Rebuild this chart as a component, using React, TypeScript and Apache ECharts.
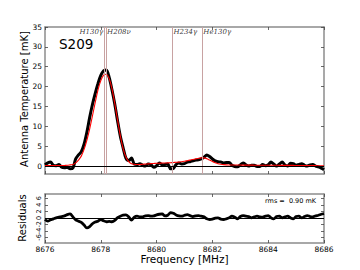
import React, { useEffect, useRef } from 'react';
import * as echarts from 'echarts';

const FREQ_START = 8676;
const FREQ_STEP = 0.1;

// Antenna temperature spectrum [mK], one value per 0.1 MHz from 8676 to 8686
const tempData = [
  0.3, 0.8, 1.0, 0.2, 0.1, 0.4, -0.3, -0.4, -0.3, -0.7,
  -0.5, 1.8, 2.8, 3.6, 5.5, 8.5, 12.2, 15.5, 18.3, 20.8,
  22.8, 24.0, 24.2, 22.3, 19.2, 15.6, 11.4, 7.5, 4.6, 2.0,
  1.4, 2.0, 0.5, 0.4, 0.6, 0.2, 0.0, 0.5, 0.3, -0.3,
  0.1, 0.8, 0.3, 0.4, 0.5, -0.7, -0.6, 0.4, 0.8, 0.5,
  0.6, 1.0, 1.1, 1.3, 1.5, 1.6, 1.8, 2.2, 2.8, 2.4,
  1.8, 1.3, 1.1, 1.0, 0.8, 0.9, 0.9, 0.2, -0.1, -0.2,
  0.3, 0.8, 0.3, 0.0, 0.2, 0.2, -0.1, -0.1, 0.4, 0.1,
  0.3, 1.0, 0.5, 0.0, 0.5, 1.0, 0.3, 0.0, 0.7, 0.6,
  0.2, 0.4, 0.6, 0.2, 0.0, 0.3, 0.4, 0.0, -0.2, -0.5,
  -0.9,
];

// Gaussian fit model [mK]
const modelData = [
  0.1, 0.1, 0.1, 0.1, 0.1, 0.1, 0.1, 0.15, 0.2, 0.3,
  0.4, 0.8, 1.5, 2.5, 4.2, 6.5, 9.3, 12.6, 16.0, 19.2,
  21.5, 22.9, 23.1, 22.0, 19.5, 15.8, 11.6, 7.6, 4.4, 2.3,
  1.1, 0.6, 0.45, 0.4, 0.4, 0.45, 0.5, 0.55, 0.6, 0.65,
  0.7, 0.72, 0.75, 0.78, 0.8, 0.85, 0.9, 0.95, 1.0, 1.1,
  1.2, 1.35, 1.5, 1.65, 1.8, 1.95, 2.05, 2.05, 1.85, 1.5,
  1.15, 0.85, 0.6, 0.45, 0.35, 0.3, 0.28, 0.27, 0.26, 0.25,
  0.25, 0.24, 0.24, 0.23, 0.23, 0.22, 0.22, 0.21, 0.21, 0.2,
  0.2, 0.2, 0.19, 0.19, 0.18, 0.18, 0.17, 0.17, 0.16, 0.16,
  0.15, 0.15, 0.14, 0.14, 0.13, 0.12, 0.11, 0.1, 0.08, 0.06,
  0.05,
];

// Residuals [mK]
const residData = [
  -0.5, -1.0, -0.6, -0.3, 0.0, 0.2, 0.4, 0.6, 1.0, 1.2,
  0.3, -0.6, -1.0, -1.4, -2.2, -3.1, -2.7, -1.8, -1.3, -1.0,
  -0.5, -0.9, -1.2, -1.1, -1.2, -0.8, 0.1, 0.5, 0.8, 0.9,
  0.3, -0.7, 0.2, 0.5, 0.3, 0.3, 0.6, 0.7, 0.5, 0.6,
  0.9, 1.1, 1.2, 0.6, 0.8, 1.6, 1.4, 0.9, 0.6, 0.5,
  0.8, 1.0, 0.7, 0.4, 0.6, 0.7, 0.5, 0.3, -0.3, -0.5,
  -0.4, -0.1, 0.0, -0.4, -0.5, -0.3, 0.0, 0.5, 0.2, -0.3,
  0.4, 0.7, 0.5, 0.4, 0.0, 0.3, 0.5, 0.3, 0.2, 0.5,
  0.7, 0.0, -0.3, 0.4, 0.5, 0.0, 0.3, 0.5, 0.0, -0.3,
  0.4, 0.5, 0.0, 0.4, 0.7, 0.4, 0.3, 0.6, 0.8, 1.1,
  1.3,
];

const lineFreqs = [8678.12, 8678.19, 8680.57, 8681.64];
const lineNames = ['H130γ', 'H208ν', 'H234γ', 'He130γ'];
const labelSides = ['left', 'right', 'right', 'right'];
const labelLevel = 33.7;

const tempTicks = [0, 5, 10, 15, 20, 25, 30, 35];
const residTicks = [-6, -4, -2, 0, 2, 4, 6];
const sourceName = 'S209';
const rmsText = 'rms =  0.90 mK';
const tempTitle = 'Antenna Temperature [mK]';
const residTitle = 'Residuals';
const freqTitle = 'Frequency [MHz]';

const toPairs = (vals: number[]) =>
  vals.map((v, i) => [Number((FREQ_START + i * FREQ_STEP).toFixed(2)), v]);

const FRAME = '#8c8c8c';
const FONT = 'DejaVu Sans';

function xAx(grid: number, pos: string, labels: boolean, name?: string) {
  return {
    type: 'value',
    gridIndex: grid,
    position: pos,
    min: 8676,
    max: 8686,
    interval: 2,
    axisLine: { show: true, onZero: false, lineStyle: { color: FRAME, width: 1.5 } },
    axisTick: { show: true, inside: true, length: 3, lineStyle: { color: '#444', width: 0.8 } },
    axisLabel: {
      show: labels,
      color: '#000',
      fontSize: 7.5,
      fontFamily: FONT,
      margin: 2,
      formatter: (v: number) => String(v),
    },
    splitLine: { show: false },
    name: name || '',
    nameLocation: 'middle',
    nameGap: 10,
    nameTextStyle: { color: '#000', fontSize: 10.5, fontFamily: FONT },
  };
}

function yAx(grid: number, pos: string, min: number, max: number, ticks: number[], labels: boolean, extra: any = {}) {
  return {
    type: 'value',
    gridIndex: grid,
    position: pos,
    min,
    max,
    axisLine: { show: true, onZero: false, lineStyle: { color: FRAME, width: 1.5 } },
    axisTick: { show: true, inside: true, length: 3, customValues: ticks, lineStyle: { color: '#444', width: 0.8 } },
    axisLabel: { show: labels, customValues: ticks, color: '#000', fontSize: 7.5, fontFamily: FONT, margin: 3, ...(extra.axisLabel || {}) },
    splitLine: { show: false },
  };
}

function vText(text: string, x: number, y: number) {
  return {
    type: 'text',
    x,
    y,
    rotation: Math.PI / 2,
    style: {
      text,
      fontSize: 10,
      fontFamily: FONT,
      fill: '#000',
      align: 'center',
      verticalAlign: 'middle',
      textAlign: 'center',
      textVerticalAlign: 'middle',
    },
  };
}

export default function App() {
  const ref = useRef<HTMLDivElement>(null);
  useEffect(() => {
    if (!ref.current) return;
    const chart = echarts.init(ref.current, undefined, { renderer: 'svg' });
    const option: any = {
      animation: false,
      backgroundColor: '#fff',
      grid: [
        { left: 45, top: 27, width: 279, height: 147 },
        { left: 45, top: 194, width: 279, height: 49 },
      ],
      xAxis: [
        xAx(0, 'bottom', false),
        xAx(0, 'top', false),
        xAx(1, 'bottom', true, freqTitle),
        xAx(1, 'top', false),
      ],
      yAxis: [
        yAx(0, 'left', -2, 35, tempTicks, true),
        yAx(0, 'right', -2, 35, tempTicks, false),
        yAx(1, 'left', -7.7, 7.3, residTicks, true, {
          axisLabel: { rotate: 90, fontSize: 6.5, margin: 3 },
        }),
        yAx(1, 'right', -7.7, 7.3, residTicks, false),
      ],
      graphic: [
        vText(tempTitle, 24, 99),
        vText(residTitle, 22, 218),
        {
          type: 'text',
          left: 59,
          top: 37,
          style: { text: sourceName, fontSize: 13.5, fontFamily: FONT, fill: '#000' },
        },
        {
          type: 'text',
          left: 265,
          top: 197,
          style: { text: rmsText, fontSize: 6.5, fontFamily: FONT, fill: '#000' },
        },
      ],
      series: [
        {
          type: 'line',
          xAxisIndex: 0,
          yAxisIndex: 0,
          data: [[FREQ_START, 0]],
          showSymbol: false,
          lineStyle: { opacity: 0 },
          silent: true,
          z: 1,
          markLine: {
            silent: true,
            symbol: ['none', 'none'],
            label: { show: false },
            data: [
              ...lineFreqs.map((f) => ({ xAxis: f, lineStyle: { color: '#c8a2a2', width: 1, type: 'solid' } })),
              { yAxis: 0, lineStyle: { color: '#000', width: 1, type: 'solid' } },
            ],
          },
        },
        {
          name: 'data',
          type: 'line',
          xAxisIndex: 0,
          yAxisIndex: 0,
          data: toPairs(tempData),
          showSymbol: false,
          smooth: 0.3,
          lineStyle: { color: '#000', width: 3 },
          z: 3,
        },
        {
          name: 'model',
          type: 'line',
          xAxisIndex: 0,
          yAxisIndex: 0,
          data: toPairs(modelData),
          showSymbol: false,
          smooth: 0.3,
          lineStyle: { color: '#ff0000', width: 1.1 },
          z: 4,
        },
        {
          type: 'scatter',
          xAxisIndex: 0,
          yAxisIndex: 0,
          symbolSize: 0,
          silent: true,
          z: 5,
          data: lineFreqs.map((f, i) => ({
            value: [f, labelLevel],
            name: lineNames[i],
            label: {
              show: true,
              position: labelSides[i],
              distance: 1,
              formatter: '{b}',
              color: '#000',
              fontSize: 7,
              fontStyle: 'italic',
              fontFamily: 'DejaVu Serif',
            },
          })),
        },
        {
          name: 'resid',
          type: 'line',
          xAxisIndex: 2,
          yAxisIndex: 2,
          data: toPairs(residData),
          showSymbol: false,
          smooth: 0.3,
          lineStyle: { color: '#000', width: 2.8 },
          z: 3,
          markLine: {
            silent: true,
            symbol: ['none', 'none'],
            label: { show: false },
            data: [{ yAxis: 0, lineStyle: { color: '#000', width: 1, type: 'solid' } }],
          },
        },
      ],
    };
    chart.setOption(option);
    return () => chart.dispose();
  }, []);
  return (
    <div
      ref={ref}
      style={{ position: 'fixed', left: 0, top: 0, width: 360, height: 270 }}
    />
  );
}
